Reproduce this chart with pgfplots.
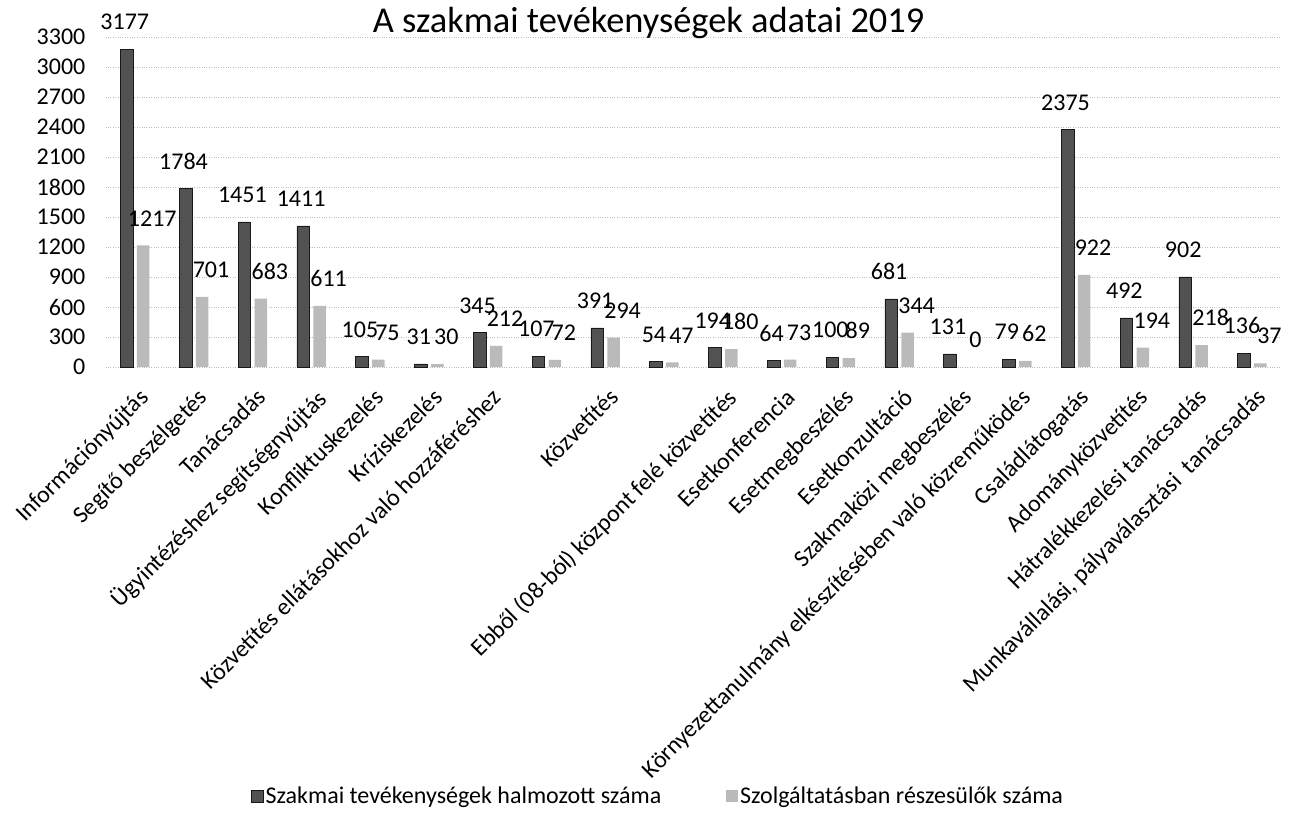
\documentclass[border=0pt]{standalone}
\usepackage{pgfplots}
\pgfplotsset{compat=1.18}
\usepackage{fontspec}
\setmainfont{Carlito}
\begin{document}
\begin{tikzpicture}
\begin{axis}[
  name=ax,
  scale only axis,
  width=1176pt, height=330pt,
  ybar, bar width=12.5pt,
  ybar=4pt,
  legend image code/.code={\fill[#1] (-5pt,-6pt) rectangle (7pt,6pt);},
  xmin=-0.5, xmax=19.5,
  ymin=0, ymax=3300,
  ytick={0,300,...,3300},
  xtick={0,...,19},
  xticklabels={Információnyújtás, Segítő beszélgetés, Tanácsadás, Ügyintézéshez segítségnyújtás, Konfliktuskezelés, Kríziskezelés, Közvetítés ellátásokhoz való hozzáféréshez, {}, Közvetítés, {}, Ebből (08-ból) központ felé közvetítés, Esetkonferencia, Esetmegbeszélés, Esetkonzultáció, Szakmaközi megbeszélés, Környezettanulmány elkészítésében való közreműködés, Családlátogatás, Adományközvetítés, Hátralékkezelési tanácsadás, {Munkavállalási, pályaválasztási\ \ tanácsadás}},
  xticklabel style={xshift=3pt, yshift=-20pt, rotate=45, anchor=north east, inner sep=0pt, font=\fontsize{24}{26}\selectfont},
  yticklabel style={xshift=-20pt, inner sep=0pt, font=\fontsize{24}{26}\selectfont},
  /pgf/number format/assume math mode=true,
  /pgf/number format/1000 sep={},
  major tick length=0pt,
  axis line style={draw=none},
  ymajorgrids,
  grid style={black!25, dotted, line width=0.7pt},
  clip=false,
  nodes near coords,
  every node near coord/.append style={font=\fontsize{24}{26}\selectfont, inner sep=0pt, anchor=south, yshift=19pt, text=black},
  legend columns=2,
  legend style={draw=none, fill=none, at={(0.4697,-1.30)}, anchor=center,
    font=\fontsize{24}{26}\selectfont,
    /tikz/every even column/.append style={column sep=63pt}},
]
\addplot[fill=black!68, draw=black!90, line width=0.6pt, every node near coord/.append style={xshift=-2pt}] coordinates {
(0,3177) (1,1784) (2,1451) (3,1411) (4,105) (5,31) (6,345) (7,107) (8,391) (9,54)
(10,194) (11,64) (12,100) (13,681) (14,131) (15,79) (16,2375) (17,492) (18,902) (19,136)};
\addplot[fill=black!27, draw=none, every node near coord/.append style={xshift=9pt}] coordinates {
(0,1217) (1,701) (2,683) (3,611) (4,75) (5,30) (6,212) (7,72) (8,294) (9,47)
(10,180) (11,73) (12,89) (13,344) (14,0) (15,62) (16,922) (17,194) (18,218) (19,37)};
\legend{Szakmai tevékenységek halmozott száma, Szolgáltatásban részesülők száma}
\node[anchor=base, font=\fontsize{36.4}{40}\selectfont] at (axis description cs:0.4617,1.015) {A szakmai tevékenységek adatai 2019};
\end{axis}
\pgfresetboundingbox
\path ([xshift=-105.6pt,yshift=-448pt]ax.south west) rectangle ([xshift=12.4pt,yshift=37pt]ax.north east);
\end{tikzpicture}
\end{document}
